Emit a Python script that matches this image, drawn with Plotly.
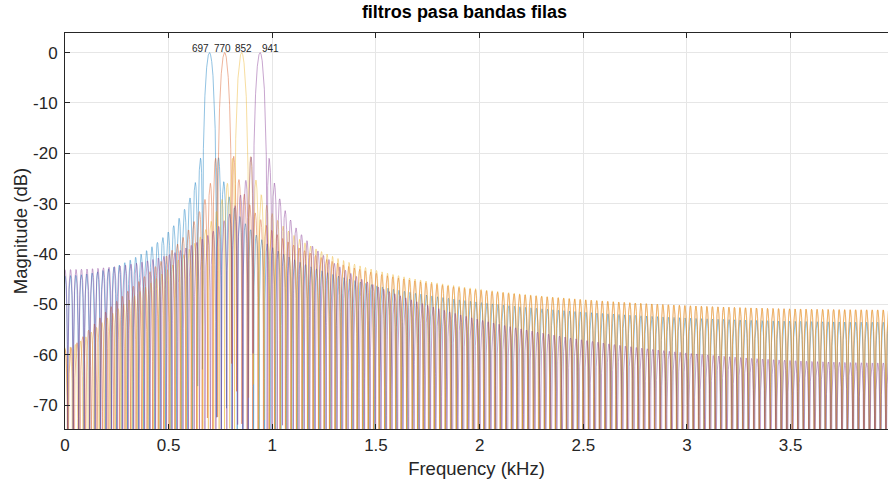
import numpy as np
import plotly.graph_objects as go

# ---- data: DTMF row band-pass filters (linear-phase FIR, order 300) ----
fs_hz = 8000
center_freqs_hz = [697, 770, 852, 941]
peak_labels = ["697", "770", "852", "941"]
filter_order = 300
half_bandwidth_hz = 20
x_ticks_khz = [0, 0.5, 1, 1.5, 2, 2.5, 3, 3.5]
x_tick_text = ["0", "0.5", "1", "1.5", "2", "2.5", "3", "3.5"]
y_ticks_db = [-70, -60, -50, -40, -30, -20, -10, 0]
y_tick_text = ["-70", "-60", "-50", "-40", "-30", "-20", "-10", "0"]

# label anchor points (data coords)
label_x_khz = [0.653, 0.761, 0.860, 0.990]
label_y_db = 0.9

colors = ["#0072BD", "#D95319", "#EDB120", "#7E2F8E"]
nfft = 65536

m = np.arange(filter_order + 1) - filter_order / 2
fig = go.Figure()
for f0, col, name in zip(center_freqs_hz, colors, peak_labels):
    h = 2 * np.cos(2 * np.pi * f0 * m / fs_hz) * (2 * half_bandwidth_hz / fs_hz) * np.sinc(2 * half_bandwidth_hz * m / fs_hz)
    H = np.abs(np.fft.rfft(h, nfft))
    f_khz = np.fft.rfftfreq(nfft, 1 / fs_hz) / 1000
    mag_db = 20 * np.log10(np.maximum(H / H.max(), 1e-9))
    fig.add_trace(go.Scatter(x=f_khz, y=mag_db, mode="lines", name=name,
                             line=dict(color=col, width=0.5), opacity=0.85,
                             showlegend=False, hoverinfo="skip"))

for lx, txt in zip(label_x_khz, peak_labels):
    fig.add_annotation(x=lx, y=label_y_db, text=txt, showarrow=False,
                       font=dict(family="Liberation Sans, Arial", size=10, color="#262626"),
                       xanchor="center", yanchor="middle")

axis_font = dict(family="Liberation Sans, Arial", size=17, color="#262626")
fig.update_layout(
    width=888, height=482,
    margin=dict(l=65, r=0, t=33, b=53),
    paper_bgcolor="white", plot_bgcolor="white",
    title=dict(text="<b>filtros pasa bandas filas</b>", x=0.523, xanchor="center",
               y=0.975, yanchor="middle",
               font=dict(family="Liberation Sans, Arial", size=18, color="#000000")),
    xaxis=dict(range=[0, 3.970], tickvals=x_ticks_khz, ticktext=x_tick_text,
               showgrid=True, gridcolor="#E6E6E6", gridwidth=1, zeroline=False,
               showline=True, linecolor="#262626", linewidth=1, mirror="ticks",
               ticks="inside", ticklen=5, tickcolor="#262626",
               tickfont=axis_font, ticklabelstandoff=1,
               title=dict(text="Frequency (kHz)", font=dict(family="Liberation Sans, Arial", size=18.5, color="#262626"), standoff=7)),
    yaxis=dict(range=[-74.73, 3.89], tickvals=y_ticks_db, ticktext=y_tick_text,
               showgrid=True, gridcolor="#E6E6E6", gridwidth=1, zeroline=False,
               showline=True, linecolor="#262626", linewidth=1, mirror=False,
               ticks="inside", ticklen=5, tickcolor="#262626",
               tickfont=axis_font, ticklabelstandoff=3,
               title=dict(text="Magnitude (dB)", font=dict(family="Liberation Sans, Arial", size=18.5, color="#262626"), standoff=0)),
)

fig.write_html("out.html")
